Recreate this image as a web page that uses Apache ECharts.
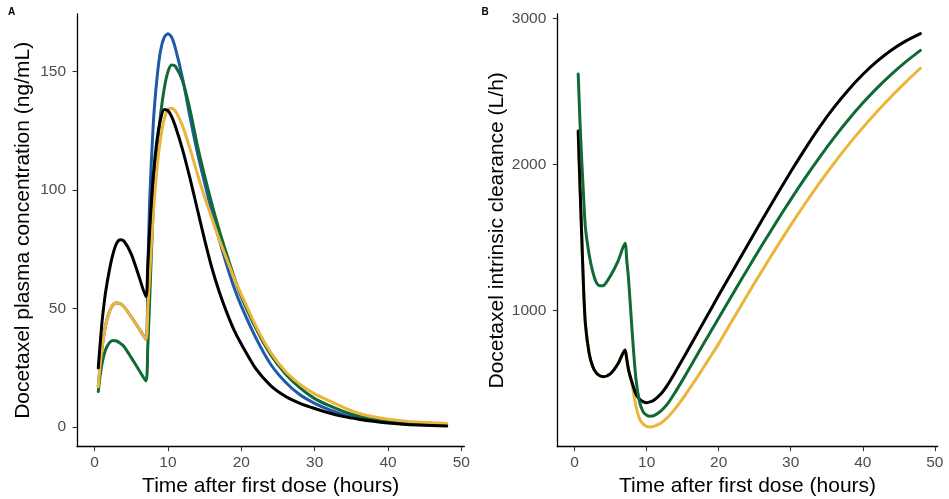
<!DOCTYPE html>
<html>
<head>
<meta charset="utf-8">
<script src="https://cdn.jsdelivr.net/npm/echarts@6/dist/echarts.min.js"></script>
<style>
  html, body { margin: 0; padding: 0; background: #fff; }
  #chart { width: 949px; height: 499px; }
</style>
</head>
<body>
<div id="chart"></div>
<script>
// Sampling times (hours after the first dose), shared by every curve
const hours = [0.5, 0.75, 1, 1.25, 1.5, 2, 2.5, 3, 3.5, 4, 5, 6, 7,
  7.25, 7.5, 8, 8.5, 9, 9.5, 10, 10.5, 11,
  12, 13, 14, 15, 16, 17, 18, 19, 20,
  22, 24, 26, 28, 30, 32, 34, 36, 38, 40, 42, 44, 46, 48];

// Panel A: docetaxel plasma concentration (ng/mL)
const concBlue = [17, 26, 33, 38.5, 43, 48.5, 51.5, 52.3, 52, 50.8, 46.5, 41.8, 37,
  64, 95, 128, 147, 159, 164.5, 166, 164.5, 160,
  147, 131, 116, 103, 90.5, 79, 68.5, 59, 51,
  37.5, 26.5, 19, 13.6, 10, 7.3, 5.2, 3.8, 2.8, 2.0, 1.5, 1.1, 0.85, 0.7];
const concGreen = [15, 21.5, 26.5, 30, 32.7, 35.5, 36.5, 36.3, 35.3, 34, 29.3, 24.3, 19.4,
  34, 53, 93, 116, 132, 143, 150, 152.8, 152.3,
  146, 134, 119, 106, 94, 83, 73, 63.5, 55,
  41.5, 30.5, 22.5, 16.5, 12, 9, 6.5, 4.6, 3.3, 2.4, 1.8, 1.4, 1.2, 1.0];
const concOrange = [17, 26, 33, 38.5, 43, 48.5, 51.5, 52.3, 52, 50.8, 46.5, 41.8, 37,
  50, 64, 90, 109, 122, 130, 134, 134.5, 133.5,
  127, 117.5, 107, 97, 88, 79, 71, 63, 56,
  42.5, 31.5, 23.5, 18, 14, 11, 8.2, 5.8, 4.3, 3.3, 2.6, 2.1, 1.8, 1.5];
const concBlack = [25, 35, 44, 51, 57, 66, 73, 77.5, 79, 78.5, 73, 64, 55,
  68, 83, 106, 121, 130, 134, 133.5, 131, 127,
  117, 105, 92, 79, 67, 57, 48.5, 41, 35,
  24.5, 17.5, 13, 10, 7.8, 5.9, 4.4, 3.3, 2.4, 1.7, 1.2, 0.85, 0.6, 0.4];

// Panel B: docetaxel intrinsic clearance (L/h)
const clBlack = [2229, 1850, 1500, 1150, 910, 715, 620, 575, 555, 549, 570, 635, 731,
  668, 594, 505, 432, 396, 378, 371, 376, 388,
  432, 500, 582, 668, 755, 842, 930, 1017, 1105,
  1277, 1448, 1618, 1786, 1950, 2107, 2255, 2390, 2510, 2615, 2706, 2783, 2845, 2895];
const clGreen = [2619, 2290, 2020, 1780, 1570, 1390, 1270, 1195, 1170, 1172, 1240, 1335, 1461,
  1340, 1210, 850, 540, 380, 310, 285, 278, 282,
  315, 370, 445, 527, 612, 697, 782, 866, 950,
  1118, 1284, 1447, 1606, 1760, 1908, 2049, 2182, 2306, 2420, 2524, 2618, 2703, 2780];
const clOrange = [2229, 1850, 1500, 1150, 910, 715, 620, 575, 555, 549, 570, 635, 731,
  655, 590, 490, 350, 262, 225, 209, 205, 209,
  232, 275, 332, 398, 470, 544, 620, 697, 775,
  943, 1109, 1272, 1431, 1585, 1733, 1874, 2008, 2134, 2252, 2363, 2467, 2565, 2658];

// Tick labels
const xTicks = [0, 10, 20, 30, 40, 50];
const yTicksConc = [0, 50, 100, 150];
const yTicksCl = [1000, 2000, 3000];

const COLORS = { blue: '#2159a9', green: '#0f6a36', orange: '#ebb43b', black: '#000000' };
const FONT = 'Liberation Sans, Arial, Helvetica, sans-serif';

function pairs(vals) { return hours.map((h, i) => [h, vals[i]]); }

function line(name, vals, color, axisIdx, z) {
  return {
    name, type: 'line', xAxisIndex: axisIdx, yAxisIndex: axisIdx,
    data: pairs(vals), showSymbol: false, smooth: 0.25, z: z,
    lineStyle: { color, width: 3, cap: 'round', join: 'round' },
    itemStyle: { color }, animation: false
  };
}

const plain = v => String(v);

function xAxisCfg(gridIndex) {
  return {
    type: 'value', gridIndex, min: -2.4, max: 50.4,
    name: 'Time after first dose (hours)', nameLocation: 'middle', nameGap: 29,
    nameTextStyle: { color: '#000', fontSize: 21, fontFamily: FONT },
    axisLine: { onZero: false, lineStyle: { color: '#000', width: 1.3 } },
    axisTick: { customValues: xTicks, length: 4.5, lineStyle: { color: '#333', width: 1.1 } },
    axisLabel: { customValues: xTicks, formatter: plain, color: '#4d4d4d', fontSize: 15.5, fontFamily: FONT, margin: 8 },
    splitLine: { show: false }
  };
}

function yAxisCfg(gridIndex, min, max, ticks, title, gap) {
  return {
    type: 'value', gridIndex, min, max,
    name: title, nameLocation: 'middle', nameGap: gap, nameRotate: 90,
    nameTextStyle: { color: '#000', fontSize: 21, fontFamily: FONT },
    axisLine: { show: true, onZero: false, lineStyle: { color: '#000', width: 1.3 } },
    axisTick: { show: true, customValues: ticks, length: 4.5, lineStyle: { color: '#333', width: 1.1 } },
    axisLabel: { customValues: ticks, formatter: plain, color: '#4d4d4d', fontSize: 15.5, fontFamily: FONT, margin: 11 },
    splitLine: { show: false }
  };
}

const chart = echarts.init(document.getElementById('chart'), null, { renderer: 'canvas' });
chart.setOption({
  backgroundColor: '#fff',
  animation: false,
  title: [
    { text: 'A', left: 8, top: 7, padding: 0, textStyle: { fontSize: 10, fontWeight: 'bold', color: '#000', fontFamily: FONT } },
    { text: 'B', left: 481.5, top: 7, padding: 0, textStyle: { fontSize: 10, fontWeight: 'bold', color: '#000', fontFamily: FONT } }
  ],
  grid: [
    { left: 77, right: 484.7, top: 14, bottom: 52.3, containLabel: false, outerBoundsMode: 'none' },
    { left: 557.3, right: 11.3, top: 14, bottom: 52.3, containLabel: false, outerBoundsMode: 'none' }
  ],
  xAxis: [xAxisCfg(0), xAxisCfg(1)],
  yAxis: [
    yAxisCfg(0, -8.3, 174.3, yTicksConc, 'Docetaxel plasma concentration (ng/mL)', 43),
    yAxisCfg(1, 70, 3029, yTicksCl, 'Docetaxel intrinsic clearance (L/h)', 50)
  ],
  series: [
    line('Blue', concBlue, COLORS.blue, 0, 2),
    line('Green', concGreen, COLORS.green, 0, 3),
    line('Orange', concOrange, COLORS.orange, 0, 4),
    line('Black', concBlack, COLORS.black, 0, 5),
    line('Orange', clOrange, COLORS.orange, 1, 2),
    line('Black', clBlack, COLORS.black, 1, 3),
    line('Green', clGreen, COLORS.green, 1, 4)
  ]
});
</script>
</body>
</html>
